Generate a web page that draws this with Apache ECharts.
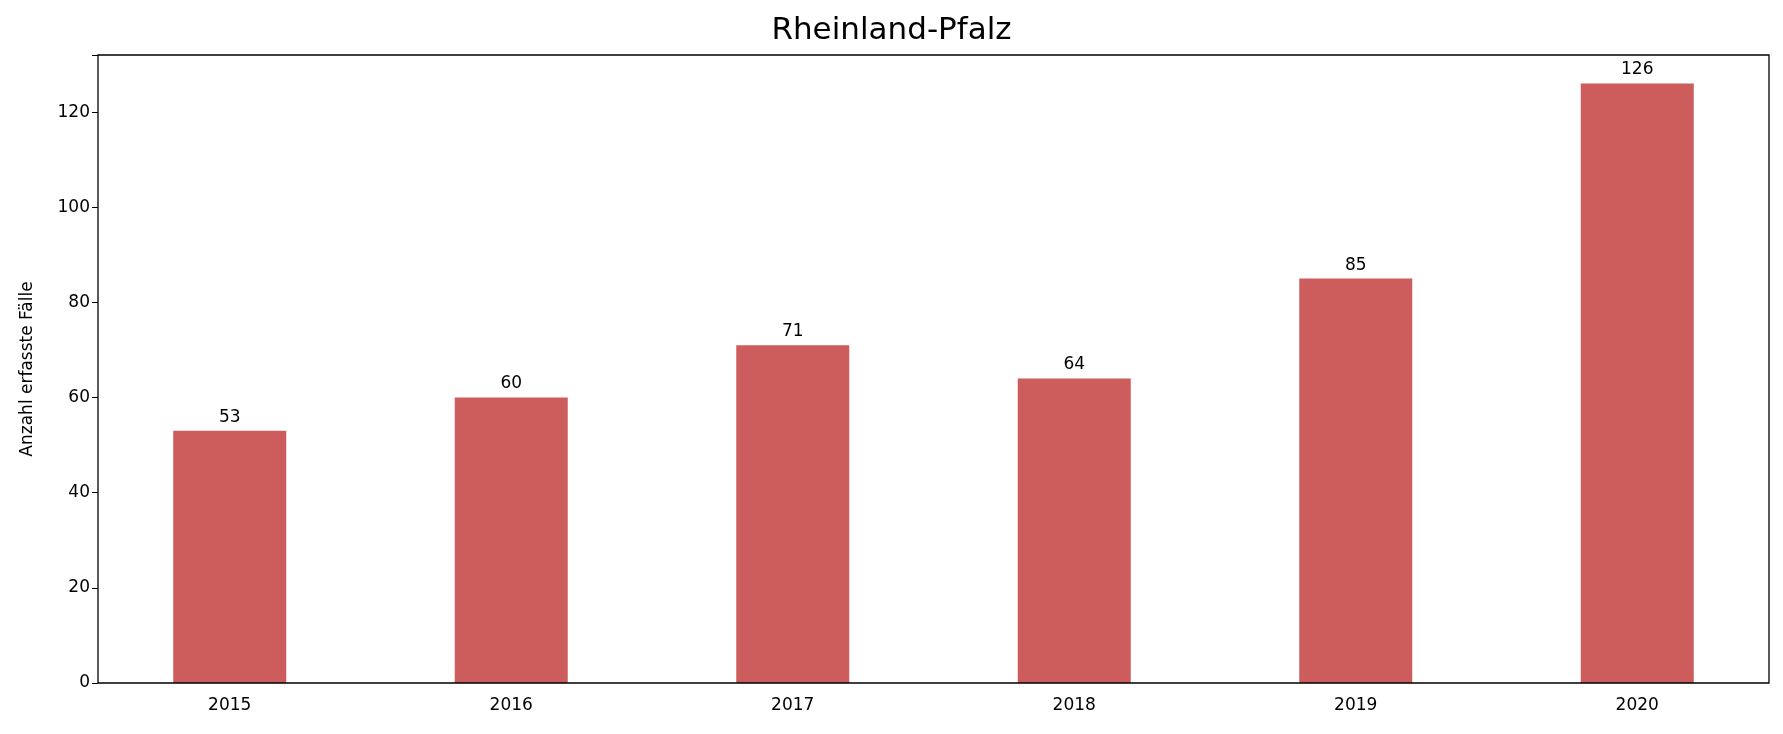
<!DOCTYPE html><html><head><meta charset="utf-8"><script src="https://cdn.jsdelivr.net/npm/echarts@6/dist/echarts.min.js"></script></head><body style="margin:0"><div id="c" style="width:1783px;height:734px"></div><script>
const categories=['2015','2016','2017','2018','2019','2020'];
const values=[53,60,71,64,85,126];
const yTicks=[0,20,40,60,80,100,120];
const f='DejaVu Sans';
const ch=echarts.init(document.getElementById('c'));
ch.setOption({animation:false,
title:{text:'Rheinland-Pfalz',left:'center',top:10,textStyle:{fontFamily:f,fontWeight:'normal',fontSize:31,color:'#000'}},
grid:[{left:98,right:14,top:55,bottom:51,show:true,borderColor:'#000',borderWidth:1.3,z:10},
{left:89,right:5,top:55,bottom:51}],
xAxis:[{type:'value',gridIndex:0,min:0,max:1,show:false},
{type:'category',gridIndex:1,data:categories,axisLine:{show:false},axisTick:{alignWithLabel:true,length:6,lineStyle:{color:'#000'}},axisLabel:{fontFamily:f,fontSize:17,color:'#000',margin:14}}],
yAxis:[{type:'value',gridIndex:0,min:0,max:132,interval:20,name:'Anzahl erfasste Fälle',nameLocation:'middle',nameGap:62,nameTextStyle:{fontFamily:f,fontSize:17,color:'#000'},splitLine:{show:false},axisLine:{show:false},axisTick:{show:true,length:6,lineStyle:{color:'#000'}},axisLabel:{fontFamily:f,fontSize:17,color:'#000',formatter:v=>yTicks.includes(v)?String(v):''}},
{type:'value',gridIndex:1,min:0,max:132,show:false}],
series:[{type:'bar',xAxisIndex:1,yAxisIndex:1,data:values,barWidth:113,itemStyle:{color:'#cd5c5c'},label:{show:true,position:'top',distance:5,fontFamily:f,fontSize:17,color:'#000'}}]});
</script></body></html>
